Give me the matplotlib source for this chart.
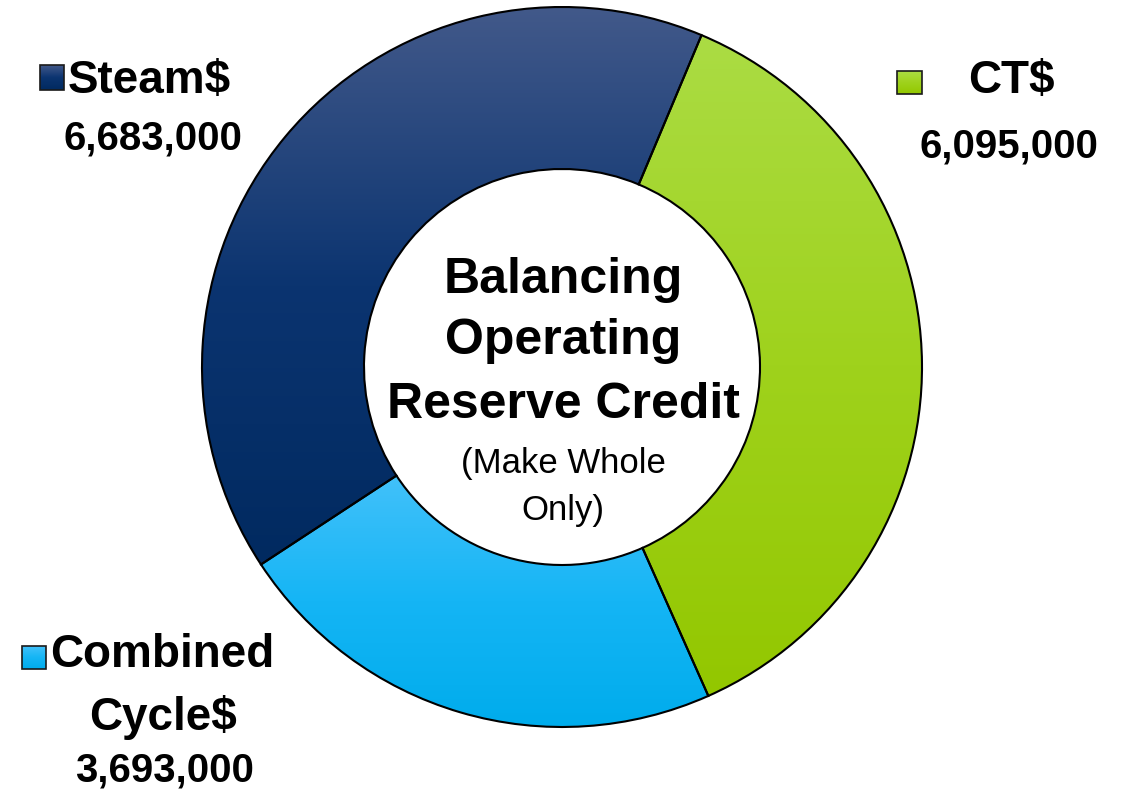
import matplotlib
matplotlib.use("Agg")
import matplotlib.pyplot as plt
import numpy as np
from matplotlib.colors import to_rgb
from matplotlib.patches import Rectangle

W, H = 1132, 791

# credit totals in dollars, listed clockwise from the top-right
labels = ["CT$", "Combined\nCycle$", "Steam$"]
values = [6095000, 3693000, 6683000]

# gradient stops (top -> bottom) per slice
gradients = {
    "CT$": ["#abdc44", "#9fd21c", "#93c700"],
    "Combined\nCycle$": ["#42c1fa", "#15b5f5", "#00acec"],
    "Steam$": ["#42598a", "#0b3470", "#012a60"],
}

center_lines = ["Balancing", "Operating", "Reserve Credit"]
sub_lines = ["(Make Whole", "Only)"]

FONT = "Liberation Sans"


def Y(y):
    # layout below is measured from the top edge
    return H - y


def gradient_fill(ax, patch, stops):
    x0, y0, x1, y1 = patch.get_path().transformed(patch.get_patch_transform()).get_extents().extents
    cols = np.array([to_rgb(c) for c in stops])
    t = np.linspace(0, 1, 256)
    pos = np.linspace(0, 1, len(stops))
    img = np.stack([np.interp(t, pos, cols[:, k]) for k in range(3)], axis=1)
    img = img[:, None, :]
    im = ax.imshow(img, extent=[x0, x1, y0, y1], origin="upper", aspect="auto",
                   interpolation="bilinear", zorder=2)
    im.set_clip_path(patch)


fig = plt.figure(figsize=(W / 100, H / 100), dpi=100)
ax = fig.add_axes([0, 0, 1, 1])

start = 90 - 22.8
wedges, _ = ax.pie(values, startangle=start, counterclock=False, radius=360,
                   center=(562, Y(367)),
                   wedgeprops=dict(width=162, edgecolor="black", linewidth=1.5))

for w, lab in zip(wedges, labels):
    gradient_fill(ax, w, gradients[lab])
    w.set_facecolor("none")
    w.set_zorder(3)

# legend-style swatches next to each label
swatches = {"Steam$": (40, 65, 24, 25), "CT$": (897, 71, 25, 23),
            "Combined\nCycle$": (22, 646, 24, 23)}
for lab, (x, y, w_, h_) in swatches.items():
    r = Rectangle((x, Y(y + h_)), w_, h_, facecolor="none", edgecolor="#1a1a1a",
                  linewidth=1.2, zorder=4)
    ax.add_patch(r)
    gradient_fill(ax, r, gradients[lab])

fs = 33
nfs = 29
ax.text(68, Y(93), "Steam$", fontsize=fs, fontweight="bold", family=FONT,
        ha="left", va="baseline")
ax.text(153, Y(149), f"{values[2]:,}", fontsize=nfs, fontweight="bold", family=FONT,
        ha="center", va="baseline")

ax.text(968, Y(93), "CT$", fontsize=fs, fontweight="bold", family=FONT,
        ha="left", va="baseline")
ax.text(1009, Y(158), f"{values[0]:,}", fontsize=nfs, fontweight="bold", family=FONT,
        ha="center", va="baseline")

ax.text(50, Y(667), "Combined", fontsize=fs, fontweight="bold", family=FONT,
        ha="left", va="baseline")
ax.text(163, Y(730), "Cycle$", fontsize=fs, fontweight="bold", family=FONT,
        ha="center", va="baseline")
ax.text(164, Y(782), f"{values[1]:,}", fontsize=nfs, fontweight="bold", family=FONT,
        ha="center", va="baseline")

# title inside the ring
for line, base in zip(center_lines, [293, 354, 418]):
    ax.text(563, Y(base), line, fontsize=36, fontweight="bold", family=FONT,
            ha="center", va="baseline")
for line, base in zip(sub_lines, [473, 520]):
    ax.text(563, Y(base), line, fontsize=25, family=FONT,
            ha="center", va="baseline")

ax.set_xlim(0, W)
ax.set_ylim(0, H)
ax.set_aspect("equal")
ax.axis("off")

fig.savefig("out.png", dpi=100)
